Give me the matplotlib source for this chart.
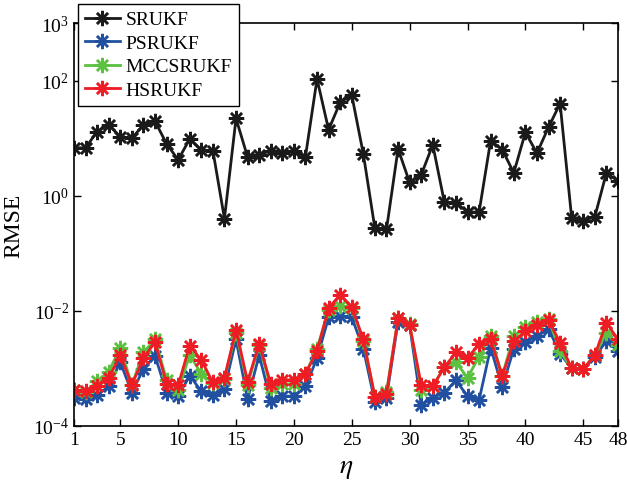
import matplotlib
matplotlib.use('Agg')
import matplotlib.pyplot as plt
import numpy as np

plt.rcParams['font.family'] = ['Liberation Serif', 'DejaVu Serif']
plt.rcParams['mathtext.fontset'] = 'stix'

eta = np.arange(1, 49)

srukf = [6.8, 6.8, 13, 17, 10.6, 10, 17, 19.6, 8, 4.2, 9.7, 6.2, 6.1, 0.4, 22, 4.7,
         5.1, 6.1, 5.5, 5.9, 4.8, 107, 14, 42, 56, 5.3, 0.27, 0.26, 6.5, 1.7, 2.3, 7.7,
         0.77, 0.76, 0.52, 0.52, 9.1, 6.3, 2.5, 12.6, 5.5, 15.5, 40, 0.41, 0.37, 0.43,
         2.5, 1.8]

psrukf = [3.1e-4, 2.9e-4, 3.4e-4, 4.9e-4, 1.28e-3, 3.8e-4, 9.8e-4, 1.67e-3, 3.8e-4,
          3.3e-4, 7.5e-4, 4.0e-4, 3.4e-4, 4.4e-4, 3.2e-3, 2.9e-4, 1.7e-3, 2.7e-4,
          3.3e-4, 3.3e-4, 4.9e-4, 1.5e-3, 7.7e-3, 8.1e-3, 7.7e-3, 2.2e-3, 2.6e-4,
          3.1e-4, 6.5e-3, 5.6e-3, 2.3e-4, 3.1e-4, 3.8e-4, 6.2e-4, 3.3e-4, 2.8e-4,
          2.3e-3, 4.7e-4, 2.2e-3, 2.9e-3, 3.6e-3, 4.9e-3, 1.8e-3, 1.0e-3, 9.8e-4,
          1.6e-3, 3.0e-3, 2.0e-3]

mccsrukf = [4.3e-4, 3.9e-4, 6.0e-4, 8.7e-4, 2.3e-3, 5.2e-4, 1.9e-3, 3.2e-3, 6.4e-4,
            4.2e-4, 1.7e-3, 8.1e-4, 5.6e-4, 6.6e-4, 4.2e-3, 5.2e-4, 2.6e-3, 4.6e-4,
            5.4e-4, 5.4e-4, 8.1e-4, 2.2e-3, 1.05e-2, 1.23e-2, 1.12e-2, 3.0e-3, 3.2e-4,
            3.9e-4, 7.4e-3, 5.9e-3, 4.3e-4, 4.9e-4, 1.05e-3, 1.28e-3, 6.9e-4, 1.6e-3,
            3.6e-3, 7.5e-4, 3.7e-3, 5.2e-3, 6.5e-3, 7.2e-3, 2.0e-3, 1.0e-3, 9.8e-4,
            1.7e-3, 4.2e-3, 2.6e-3]

hsrukf = [4.2e-4, 4.0e-4, 4.9e-4, 6.9e-4, 1.7e-3, 5.2e-4, 1.5e-3, 2.9e-3, 5.4e-4,
          5.1e-4, 2.5e-3, 1.4e-3, 5.7e-4, 6.9e-4, 4.7e-3, 5.9e-4, 2.7e-3, 5.4e-4,
          6.2e-4, 6.4e-4, 8.1e-4, 2.0e-3, 1.12e-2, 1.9e-2, 1.16e-2, 3.2e-3, 3.2e-4,
          3.6e-4, 7.4e-3, 5.7e-3, 5.2e-4, 4.9e-4, 1.05e-3, 1.9e-3, 1.5e-3, 2.7e-3,
          3.2e-3, 7.3e-4, 3.0e-3, 4.4e-3, 5.7e-3, 6.9e-3, 2.8e-3, 1.0e-3, 9.8e-4,
          1.7e-3, 6.2e-3, 3.2e-3]

labels = ['SRUKF', 'PSRUKF', 'MCCSRUKF', 'HSRUKF']
colors = ['#1a1a1a', '#2150a0', '#5cc040', '#ee1c24']
xticks = [1, 5, 10, 15, 20, 25, 30, 35, 40, 45, 48]
yticks = [1e-4, 1e-2, 1e0, 1e2, 1e3]

fig = plt.figure(figsize=(6.27, 4.81), dpi=100)
ax = fig.add_axes([0.118, 0.1123, 0.8676, 0.8377])

# MATLAB-style asterisk: 8 spokes
asterisk = (8, 2, 0)
for series, lab, col in zip([srukf, psrukf, mccsrukf, hsrukf], labels, colors):
    ax.plot(eta, series, '-', marker=asterisk, color=col, lw=2, markersize=11,
            markeredgewidth=1.8, label=lab)

ax.set_yscale('log')
ax.set_xlim(1, 48)
ax.set_ylim(1e-4, 1e3)
ax.set_xticks(xticks)
ax.set_yticks(yticks)
ax.yaxis.set_minor_locator(matplotlib.ticker.NullLocator())
ax.tick_params(direction='in', top=True, right=True, labelsize=14, length=5, width=1)
for s in ax.spines.values():
    s.set_linewidth(1.2)

ax.set_xlabel(r'$\eta$', fontsize=20, labelpad=5)
ax.set_ylabel('RMSE', fontsize=17, labelpad=6)

ax.legend(loc='upper left', bbox_to_anchor=(78 / 627, 1 - 5 / 481),
          bbox_transform=fig.transFigure, borderaxespad=0, fontsize=14,
          fancybox=False, edgecolor='black', framealpha=1, handlelength=1.8,
          handletextpad=0.3, labelspacing=0.3, borderpad=0.35)

fig.savefig('out.png', dpi=100)
